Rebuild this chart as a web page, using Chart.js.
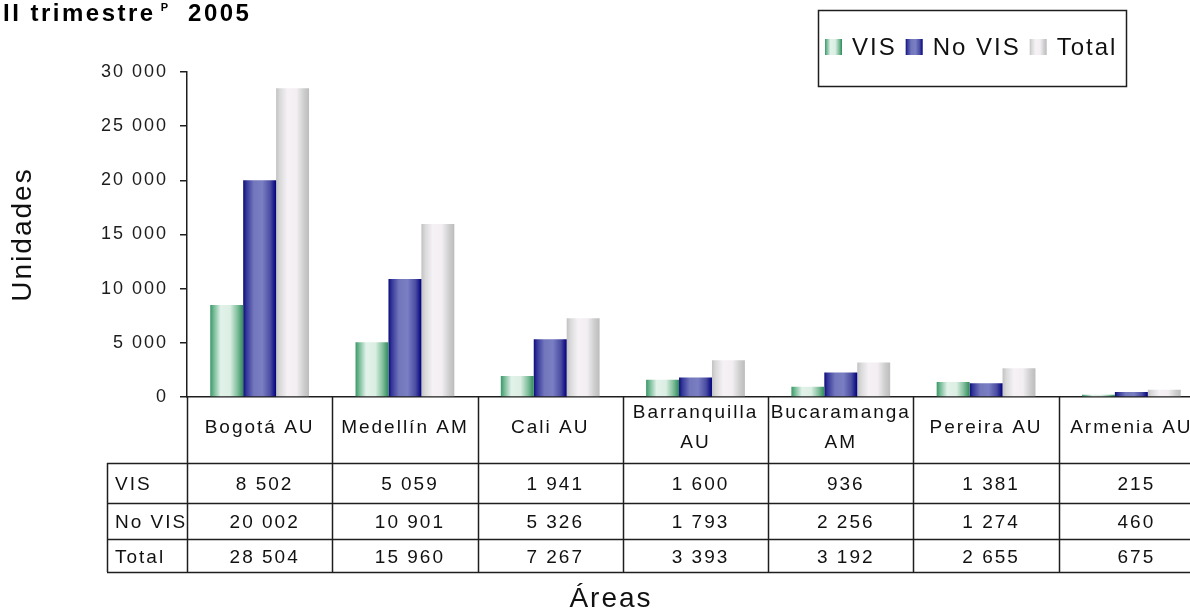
<!DOCTYPE html>
<html>
<head>
<meta charset="utf-8">
<script src="https://cdn.jsdelivr.net/npm/chart.js@4.4.1/dist/chart.umd.min.js"></script>
<style>
  html, body { margin: 0; padding: 0; background: #fff; overflow: hidden; width: 1190px; height: 612px; }
  #wrap { position: relative; width: 1204px; height: 612px; }
  canvas { display: block; }
</style>
</head>
<body>
<div id="wrap"><canvas id="chart" width="1204" height="612"></canvas></div>
<script>
// Licencias de vivienda por área, II trimestre 2005
const areas = ['Bogotá AU', 'Medellín AM', 'Cali AU', ['Barranquilla', 'AU'], ['Bucaramanga', 'AM'], 'Pereira AU', 'Armenia AU'];
const seriesNames = ['VIS', 'No VIS', 'Total'];
const vis    = [8502, 5059, 1941, 1600, 936, 1381, 215];
const noVis  = [20002, 10901, 5326, 1793, 2256, 1274, 460];
const total  = [28504, 15960, 7267, 3393, 3192, 2655, 675];
const yMin = 0;
const yMax = 30000;
const yStep = 5000;

const FONT = "'Liberation Sans', Arial, sans-serif";
const INK = '#111';
const LINE = '#1e1e1e';
const CAT_PCT = 0.68;

// horizontal "cylinder" shading for each series
const shades = [
  [[0, '#3a9767'], [0.1, '#6fb891'], [0.32, '#e2f2ea'], [0.6, '#dcefe4'], [0.82, '#82c09d'], [1, '#2f8a5a']],
  [[0, '#0c0c78'], [0.1, '#35379a'], [0.32, '#7276bb'], [0.58, '#7a7ec2'], [0.82, '#4b4da2'], [1, '#00007c']],
  [[0, '#c2c2c2'], [0.12, '#dadada'], [0.34, '#f5f1f5'], [0.62, '#f2eef2'], [0.85, '#cdcdcd'], [1, '#bcbcbc']]
];

const fmt = v => String(v).replace(/\B(?=(\d{3})+(?!\d))/g, ' ');

function gradientFor(ctx, x0, x1, stops) {
  const g = ctx.createLinearGradient(x0, 0, x1, 0);
  stops.forEach(([o, c]) => g.addColorStop(o, c));
  return g;
}

function barFill(stops) {
  return (c) => {
    const chart = c.chart;
    const xs = chart.scales && chart.scales.x;
    if (c.type !== 'data' || !xs) return stops[2][1];
    const n = chart.data.labels.length;
    const colW = (xs.right - xs.left) / n;
    const groupW = colW * CAT_PCT;
    const bw = groupW / chart.data.datasets.length;
    const left = xs.getPixelForValue(c.dataIndex) - groupW / 2 + c.datasetIndex * bw;
    if (!isFinite(left) || !isFinite(bw)) return stops[2][1];
    return gradientFor(chart.ctx, left, left + bw, stops);
  };
}

// data table, legend box and titles drawn around the plot
const tablePlugin = {
  id: 'tableAndLegend',
  beforeDraw(chart) {
    chart.ctx.letterSpacing = '2px';
  },
  afterDraw(chart) {
    const ctx = chart.ctx;
    const xs = chart.scales.x;
    const n = areas.length;
    const colW = (xs.right - xs.left) / n;
    const axisY = xs.top;
    const rowLines = [463, 503, 539, 572];
    const headX = 107;
    const rows = [vis, noVis, total];

    ctx.save();
    ctx.strokeStyle = LINE;
    ctx.lineWidth = 1.5;
    ctx.beginPath();
    for (let i = 0; i <= n; i++) {
      const bx = Math.round(xs.left + i * colW) + 0.5;
      ctx.moveTo(bx, axisY);
      ctx.lineTo(bx, rowLines[rowLines.length - 1]);
    }
    ctx.moveTo(headX + 0.5, rowLines[0]);
    ctx.lineTo(headX + 0.5, rowLines[rowLines.length - 1]);
    rowLines.forEach(y => {
      ctx.moveTo(headX, y + 0.5);
      ctx.lineTo(xs.right, y + 0.5);
    });
    ctx.stroke();

    // table values
    ctx.fillStyle = INK;
    ctx.letterSpacing = '2px';
    ctx.font = '19px ' + FONT;
    ctx.textBaseline = 'middle';
    rows.forEach((vals, r) => {
      const cy = (rowLines[r] + rowLines[r + 1]) / 2 + 2;
      ctx.textAlign = 'left';
      ctx.fillText(seriesNames[r], 115, cy);
      ctx.textAlign = 'center';
      vals.forEach((v, i) => {
        ctx.fillText(fmt(v), xs.getPixelForValue(i) + 5, cy);
      });
    });

    // x axis title
    ctx.font = '28px ' + FONT;
    ctx.textAlign = 'center';
    ctx.textBaseline = 'alphabetic';
    ctx.fillText('Áreas', 611, 607);

    // legend box
    ctx.lineWidth = 1.5;
    ctx.strokeRect(818.5, 10.5, 308, 76);
    ctx.font = '24px ' + FONT;
    ctx.textAlign = 'left';
    let lx = 825;
    chart.data.datasets.forEach((ds, i) => {
      ctx.fillStyle = gradientFor(ctx, lx, lx + 17, shades[i]);
      ctx.fillRect(lx, 39, 17, 16);
      ctx.fillStyle = INK;
      ctx.fillText(ds.label, lx + 27, 55);
      lx += 27 + ctx.measureText(ds.label).width + 9;
    });

    // chart title with superscript mark
    ctx.fillStyle = '#000';
    ctx.letterSpacing = '2.5px';
    ctx.font = 'bold 24px ' + FONT;
    let tx = 3;
    ctx.fillText('II trimestre', tx, 21);
    tx += ctx.measureText('II trimestre').width + 5;
    ctx.letterSpacing = '0px';
    ctx.font = 'bold 11px ' + FONT;
    ctx.fillText('P', tx, 11);
    tx += ctx.measureText('P').width + 20;
    ctx.letterSpacing = '2.5px';
    ctx.font = 'bold 24px ' + FONT;
    ctx.fillText('2005', tx, 21);
    ctx.restore();
  }
};

Chart.defaults.font.family = FONT;
Chart.defaults.color = INK;

new Chart(document.getElementById('chart'), {
  type: 'bar',
  data: {
    labels: areas,
    datasets: [
      { label: seriesNames[0], data: vis,   backgroundColor: barFill(shades[0]) },
      { label: seriesNames[1], data: noVis, backgroundColor: barFill(shades[1]) },
      { label: seriesNames[2], data: total, backgroundColor: barFill(shades[2]) }
    ]
  },
  options: {
    responsive: false,
    animation: false,
    events: [],
    datasets: { bar: { categoryPercentage: CAT_PCT, barPercentage: 1, borderWidth: 0 } },
    layout: { padding: { top: 72, left: 0, right: 0, bottom: 0 } },
    plugins: {
      legend: { display: false },
      title: { display: false },
      tooltip: { enabled: false }
    },
    scales: {
      x: {
        offset: true,
        grid: { display: true, drawOnChartArea: false, drawTicks: false },
        border: { display: true, color: LINE, width: 1.5 },
        ticks: {
          padding: 16,
          color: INK,
          autoSkip: false,
          maxRotation: 0,
          crossAlign: 'center',
          font: { size: 19, lineHeight: 30 / 19 }
        },
        afterFit: s => { s.height = 215; }
      },
      y: {
        min: yMin,
        max: yMax,
        ticks: {
          stepSize: yStep,
          padding: 12,
          color: '#1c1c1c',
          font: { size: 18 },
          callback: v => fmt(v)
        },
        grid: { display: true, drawOnChartArea: false, drawTicks: true, tickLength: 7, color: LINE, lineWidth: 1.5 },
        border: { display: true, color: LINE, width: 1.5 },
        title: { display: true, text: 'Unidades', color: INK, font: { size: 28 }, padding: { top: 6, bottom: 0 } },
        afterFit: s => { s.width = 187; }
      }
    }
  },
  plugins: [tablePlugin]
});
</script>
</body>
</html>
